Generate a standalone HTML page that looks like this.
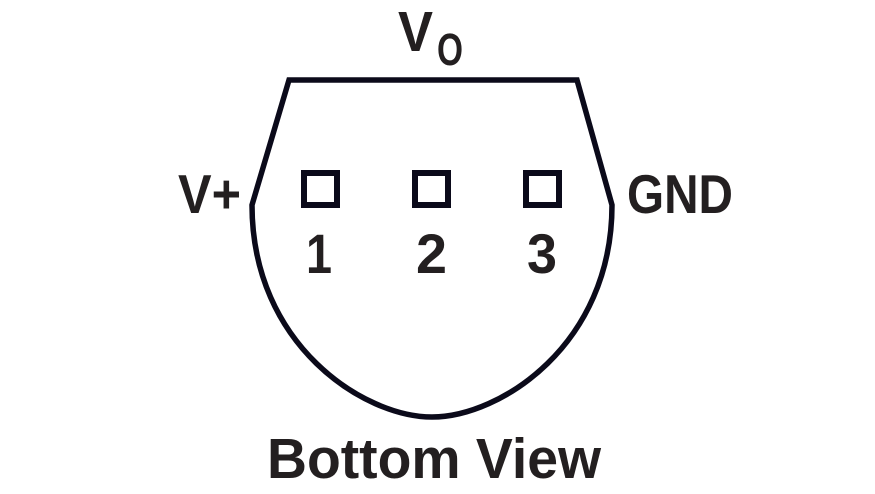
<!DOCTYPE html>
<html><head><style>html,body{margin:0;padding:0;background:#fff}svg{display:block}</style></head>
<body>
<svg width="875" height="494" viewBox="0 0 875 494" xmlns="http://www.w3.org/2000/svg">
<path d="M289 80 L577 80 L612 205 C612 345 500 417 432 417 C364 417 252 345 252 205 Z" fill="none" stroke="#0b0a1a" stroke-width="5.5" stroke-linejoin="miter"/>
<g fill="none" stroke="#0b0a1a" stroke-width="6">
<rect x="304" y="173" width="33" height="32"/>
<rect x="415" y="173" width="33" height="32"/>
<rect x="526" y="173" width="33" height="32"/>
</g>
<g font-family="Liberation Sans, sans-serif" font-weight="bold" fill="#231f20">
<text x="398" y="51" font-size="57" textLength="35" lengthAdjust="spacingAndGlyphs">V</text>
<text x="437" y="65" font-size="45" textLength="26" lengthAdjust="spacingAndGlyphs">O</text>
<text x="178" y="213" font-size="55" textLength="63" lengthAdjust="spacingAndGlyphs">V+</text>
<text x="627" y="213" font-size="55" textLength="106" lengthAdjust="spacingAndGlyphs">GND</text>
<text x="306" y="273" font-size="56" textLength="26" lengthAdjust="spacingAndGlyphs">1</text>
<text x="416" y="273" font-size="56" textLength="31" lengthAdjust="spacingAndGlyphs">2</text>
<text x="527" y="273" font-size="56" textLength="30" lengthAdjust="spacingAndGlyphs">3</text>
<text x="267" y="478" font-size="57" textLength="334" lengthAdjust="spacingAndGlyphs">Bottom View</text>
</g>
</svg>
</body></html>
